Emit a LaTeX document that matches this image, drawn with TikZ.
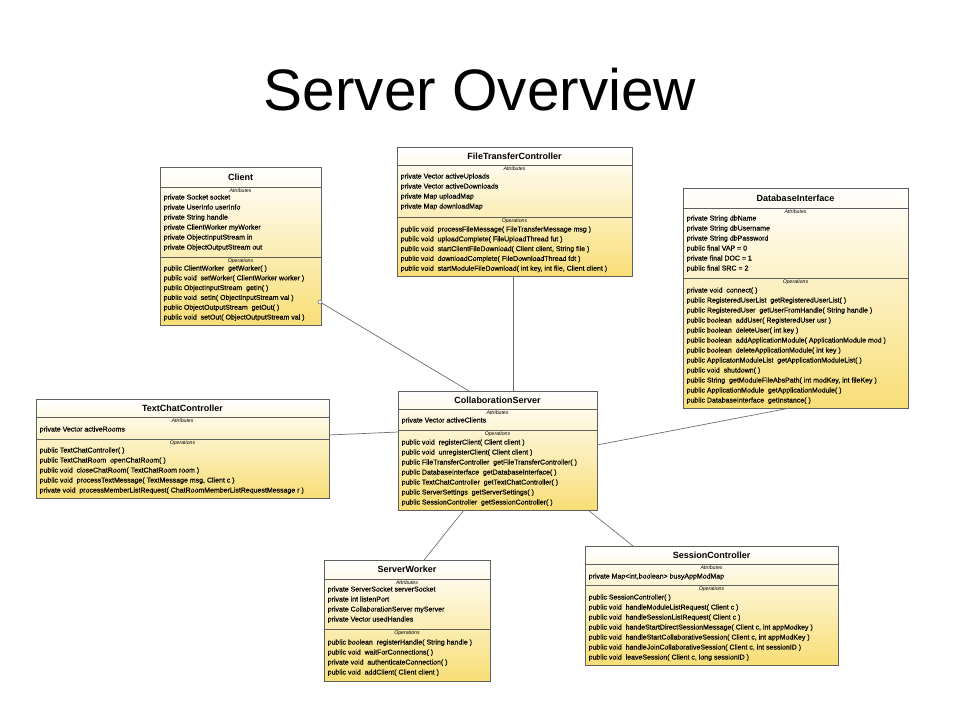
\documentclass[tikz,border=0pt]{standalone}
\usepackage{fontspec}
\setmainfont{Liberation Sans}
\newfontfamily\memfont[FakeBold=0.3]{Liberation Sans}
\usetikzlibrary{calc}
\definecolor{umlyellow}{RGB}{248,222,118}
\definecolor{umledge}{RGB}{95,95,95}
\definecolor{conncol}{RGB}{110,110,110}
\tikzset{
  classbox/.style={draw=umledge, line width=0.8pt, top color=white, bottom color=umlyellow, inner sep=0pt, outer sep=0pt},
  ctitle/.style={font=\fontsize{9}{10}\selectfont\bfseries, inner sep=0pt},
  ctag/.style={font=\fontsize{5.2}{6}\selectfont\itshape, inner sep=0pt},
  mem/.style={font=\memfont\fontsize{7}{8}\selectfont, inner sep=0pt, anchor=base west},
  sepline/.style={draw=umledge, line width=0.6pt},
  connline/.style={draw=conncol, line width=0.7pt},
  endcirc/.style={circle, draw=conncol, fill=white, inner sep=0pt, minimum size=4pt, line width=0.6pt},
  bigtitle/.style={font=\fontsize{58.5}{70}\selectfont, inner sep=0pt, anchor=base}
}
\newcommand\umlclass[9]{%
  \pgfmathsetmacro\bw{#4-#2}\pgfmathsetmacro\bh{#5-#3}%
  \pgfmathsetmacro\bx{(#2+#4)/2}\pgfmathsetmacro\by{(#3+#5)/2}%
  \node[classbox, minimum width=\bw pt, minimum height=\bh pt] (#1) at (\bx,\by) {};
  \node[ctitle] (#1-title) at (\bx,#7) {#6};
  \draw[sepline] (#2,#8) -- (#4,#8);
  \draw[sepline] (#2,#9) -- (#4,#9);
  \node[ctag] (#1-attrtag) at (\bx,#8+4) {Attributes};
  \node[ctag] (#1-optag) at (\bx,#9+4.5) {Operations};
}
\newcommand\members[5]{%
  \foreach \t [count=\i] in {#5} {\node[mem] (#1-\i) at (#2, {#3+2.5+(\i-1)*#4}) {\t};}%
}
\begin{document}
\begin{tikzpicture}[x=1pt,y=-1pt]
\useasboundingbox (0,0) rectangle (960,720);
\fill[white] (0,0) rectangle (960,720);
\node[bigtitle] (title) at (480,110) {Server Overview};

% Client
\umlclass{client}{160}{167}{321}{325}{Client}{177}{187}{257}
\members{client-a}{163.5}{197}{10}{{private Socket socket},{private UserInfo userInfo},{private String handle},{private ClientWorker myWorker},{private ObjectInputStream in},{private ObjectOutputStream out}}
\members{client-o}{163.5}{268}{9.8}{{public ClientWorker~ getWorker( )},{public void~ setWorker( ClientWorker worker )},{public ObjectInputStream~ getIn( )},{public void~ setIn( ObjectInputStream val )},{public ObjectOutputStream~ getOut( )},{public void~ setOut( ObjectOutputStream val )}}

% FileTransferController
\umlclass{ftc}{397}{147}{632}{276}{FileTransferController}{156}{165}{217}
\members{ftc-a}{400.5}{176}{10}{{private Vector activeUploads},{private Vector activeDownloads},{private Map uploadMap},{private Map downloadMap}}
\members{ftc-o}{400.5}{229}{9.8}{{public void~ processFileMessage( FileTransferMessage msg )},{public void~ uploadComplete( FileUploadThread fut )},{public void~ startClientFileDownload( Client client, String file )},{public void~ downloadComplete( FileDownloadThread fdt )},{public void~ startModuleFileDownload( int key, int file, Client client )}}

% DatabaseInterface
\umlclass{db}{683}{188}{908}{408}{DatabaseInterface}{198}{208}{278}
\members{db-a}{686.5}{218}{10}{{private String dbName},{private String dbUsername},{private String dbPassword},{public final VAP = 0},{private final DOC = 1},{public final SRC = 2}}
\members{db-o}{686.5}{290}{10}{{private void~ connect( )},{public RegisteredUserList~ getRegisteredUserList( )},{public RegisteredUser~ getUserFromHandle( String handle )},{public boolean~ addUser( RegisteredUser usr )},{public boolean~ deleteUser( int key )},{public boolean~ addApplicationModule( ApplicationModule mod )},{public boolean~ deleteApplicationModule( int key )},{public ApplicatonModuleList~ getApplicationModuleList( )},{public void~ shutdown( )},{public String~ getModuleFileAbsPath( int modKey, int fileKey )},{public ApplicationModule~ getApplicationModule( )},{public DatabaseInterface~ getInstance( )}}

% TextChatController
\umlclass{tcc}{36}{399}{329}{498}{TextChatController}{408}{417}{439}
\members{tcc-a}{39.5}{429}{10}{{private Vector activeRooms}}
\members{tcc-o}{39.5}{450}{10}{{public TextChatController( )},{public TextChatRoom~ openChatRoom( )},{public void~ closeChatRoom( TextChatRoom room )},{public void~ processTextMessage( TextMessage msg, Client c )},{private void~ processMemberListRequest( ChatRoomMemberListRequestMessage r )}}

% CollaborationServer
\umlclass{cs}{398}{391}{597}{510}{CollaborationServer}{400}{409}{430}
\members{cs-a}{401.5}{420}{10}{{private Vector activeClients}}
\members{cs-o}{401.5}{442}{10}{{public void~ registerClient( Client client )},{public void~ unregisterClient( Client client )},{public FileTransferController~ getFileTransferController( )},{public DatabaseInterface~ getDatabaseInterface( )},{public TextChatController~ getTextChatController( )},{public ServerSettings~ getServerSettings( )},{public SessionController~ getSessionController( )}}

% ServerWorker
\umlclass{sw}{324}{560}{490}{681}{ServerWorker}{569}{579}{629}
\members{sw-a}{327.5}{589}{10}{{private ServerSocket serverSocket},{private int listenPort},{private CollaborationServer myServer},{private Vector usedHandles}}
\members{sw-o}{327.5}{642}{10}{{public boolean~ registerHandle( String handle )},{public void~ waitForConnections( )},{private void~ authenticateConnection( )},{public void~ addClient( Client client )}}

% SessionController
\umlclass{sc}{585}{546}{838}{665}{SessionController}{555}{564}{585}
\members{sc-a}{588.5}{576}{10}{{private Map<int,boolean> busyAppModMap}}
\members{sc-o}{588.5}{597}{10}{{public SessionController( )},{public void~ handleModuleListRequest( Client c )},{public void~ handleSessionListRequest( Client c )},{public void~ handeStartDirectSessionMessage( Client c, int appModkey )},{public void~ handleStartCollaborativeSession( Client c, int appModKey )},{public void~ handleJoinCollaborativeSession( Client c, int sessionID )},{public void~ leaveSession( Client c, long sessionID )}}

% connectors
\coordinate (clientend) at ($(client.north east)+(-1,135)$);
\draw[connline] (clientend) -- ($(cs.north west)+(71,0)$);
\node[endcirc] (clientcirc) at (clientend) {};
\draw[connline] ($(ftc.south west)+(116,0)$) -- ($(cs.north west)+(115,0)$);
\draw[connline] ($(db.south west)+(107,0)$) -- ($(cs.north east)+(0,54)$);
\draw[connline] ($(tcc.north east)+(0,36)$) -- ($(cs.north west)+(0,41)$);
\draw[connline] ($(sw.north west)+(100,0)$) -- ($(cs.south west)+(66,0)$);
\draw[connline] ($(sc.north west)+(48,0)$) -- ($(cs.south east)+(-9,0)$);
\end{tikzpicture}
\end{document}
